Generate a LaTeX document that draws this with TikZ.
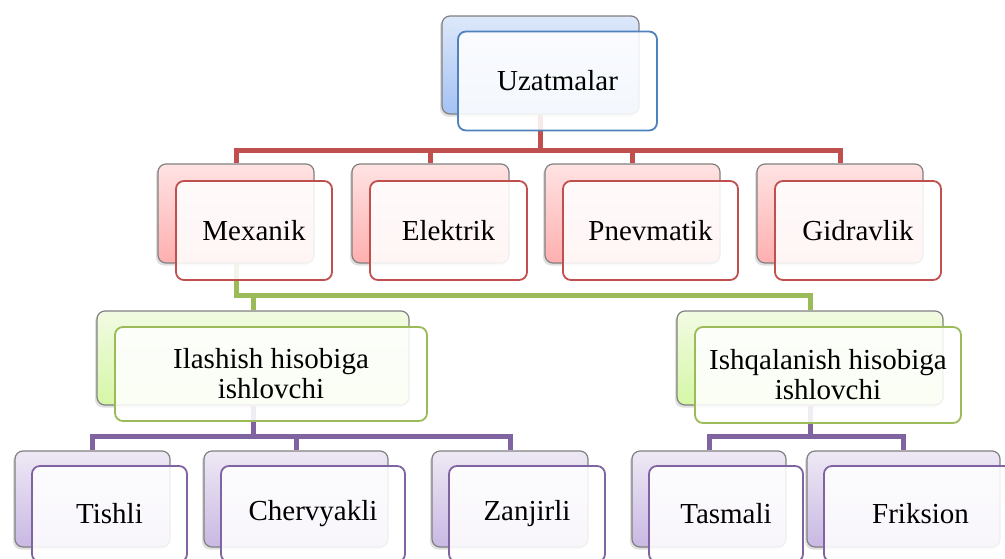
\documentclass[tikz,border=0pt]{standalone}
\usepackage{fontspec}
\setmainfont{Liberation Serif}
\usetikzlibrary{backgrounds,shadows}
\definecolor{blueline}{HTML}{4F81BD}
\definecolor{redline}{HTML}{C0504D}
\definecolor{greenline}{HTML}{9BBB59}
\definecolor{purpleline}{HTML}{8064A2}
\definecolor{bluetop}{HTML}{DDE8FA}
\definecolor{bluebot}{HTML}{A4C2F4}
\definecolor{redtop}{HTML}{FFE3E3}
\definecolor{redbot}{HTML}{FFAFAF}
\definecolor{greentop}{HTML}{F2FBE3}
\definecolor{greenbot}{HTML}{D5F7A6}
\definecolor{purpletop}{HTML}{EEE9F5}
\definecolor{purplebot}{HTML}{C9B8E3}
\begin{document}
\begin{tikzpicture}[x=1pt, y=-1pt,
	backbox/.style={draw=black!50, line width=1.2pt, rounded corners=8pt, inner sep=0pt,
		drop shadow={shadow xshift=-2pt, shadow yshift=-2.5pt, opacity=0.25}},
	frontbox/.style={line width=1.8pt, rounded corners=8pt, fill=white, fill opacity=0.88,
		text opacity=1, inner sep=0pt, align=center, font=\fontsize{29}{30}\selectfont},
	blueback/.style={backbox, top color=bluetop, bottom color=bluebot},
	redback/.style={backbox, top color=redtop, bottom color=redbot},
	greenback/.style={backbox, top color=greentop, bottom color=greenbot},
	purpleback/.style={backbox, top color=purpletop, bottom color=purplebot},
	bluefront/.style={frontbox, draw=blueline},
	redfront/.style={frontbox, draw=redline},
	greenfront/.style={frontbox, draw=greenline},
	purplefront/.style={frontbox, draw=purpleline},
	bus/.style={line width=5pt}]

		\useasboundingbox (0,0) rectangle (1005,558);
		\clip (0,0) rectangle (1005,558);

		\node[blueback, minimum width=197, minimum height=98] (uzb) at (540.5,65) {};
		\node[bluefront, minimum width=199, minimum height=99, xshift=17pt, yshift=-16pt] (uzf) at (uzb) {Uzatmalar};

		\node[redback, minimum width=156, minimum height=99] (mexb) at (236,213.5) {};
		\node[redfront, minimum width=156, minimum height=99, xshift=18pt, yshift=-17pt] (mexf) at (mexb) {Mexanik};
		\node[redback, minimum width=157, minimum height=99] (elb) at (430.5,213.5) {};
		\node[redfront, minimum width=157, minimum height=99, xshift=18pt, yshift=-17pt] (elf) at (elb) {Elektrik};
		\node[redback, minimum width=175, minimum height=99] (pnb) at (632.5,213.5) {};
		\node[redfront, minimum width=175, minimum height=99, xshift=18pt, yshift=-17pt] (pnf) at (pnb) {Pnevmatik};
		\node[redback, minimum width=166, minimum height=99] (gib) at (840,213.5) {};
		\node[redfront, minimum width=166, minimum height=99, xshift=18pt, yshift=-17pt] (gif) at (gib) {Gidravlik};

		\node[greenback, minimum width=312, minimum height=94] (ilb) at (253,358) {};
		\node[greenfront, minimum width=312, minimum height=94, xshift=18pt, yshift=-16pt] (ilf) at (ilb) {Ilashish hisobiga\\ishlovchi};
		\node[greenback, minimum width=266, minimum height=94] (isb) at (810,358) {};
		\node[greenfront, minimum width=266, minimum height=96, xshift=18pt, yshift=-17pt] (isf) at (isb) {Ishqalanish hisobiga\\ishlovchi};

		\node[purpleback, minimum width=155, minimum height=96] (tib) at (92.5,499) {};
		\node[purplefront, minimum width=155, minimum height=96, xshift=17pt, yshift=-15pt] (tif) at (tib) {Tishli};
		\node[purpleback, minimum width=184, minimum height=96] (chb) at (296,499) {};
		\node[purplefront, minimum width=184, minimum height=96, xshift=17pt, yshift=-15pt] (chf) at (chb) {Chervyakli};
		\node[purpleback, minimum width=156, minimum height=96] (zab) at (510,499) {};
		\node[purplefront, minimum width=156, minimum height=96, xshift=17pt, yshift=-15pt] (zaf) at (zab) {Zanjirli};
		\node[purpleback, minimum width=154, minimum height=96] (tab) at (709,499) {};
		\node[purplefront, minimum width=154, minimum height=96, xshift=17pt, yshift=-15pt] (taf) at (tab) {Tasmali};
		\node[purpleback, minimum width=193, minimum height=96] (frb) at (903.5,499) {};
		\node[purplefront, minimum width=193, minimum height=96, xshift=17pt, yshift=-15pt] (frf) at (frb) {Friksion};

		\begin{scope}[on background layer]
			\draw[bus, redline] (uzb.south) -- ++(0,36) -| (mexb.north);
			\draw[bus, redline] (uzb.south) -- ++(0,36) -| (elb.north);
			\draw[bus, redline] (uzb.south) -- ++(0,36) -| (pnb.north);
			\draw[bus, redline] (uzb.south) -- ++(0,36) -| (gib.north);
			\draw[bus, greenline] (mexb.south) -- ++(0,32) -| (ilb.north);
			\draw[bus, greenline] (mexb.south) -- ++(0,32) -| (isb.north);
			\draw[bus, purpleline] (ilb.south) -- ++(0,31) -| (tib.north);
			\draw[bus, purpleline] (ilb.south) -- ++(0,31) -| (chb.north);
			\draw[bus, purpleline] (ilb.south) -- ++(0,31) -| (zab.north);
			\draw[bus, purpleline] (isb.south) -- ++(0,31) -| (tab.north);
			\draw[bus, purpleline] (isb.south) -- ++(0,31) -| (frb.north);
		\end{scope}

	\end{tikzpicture}
\end{document}
